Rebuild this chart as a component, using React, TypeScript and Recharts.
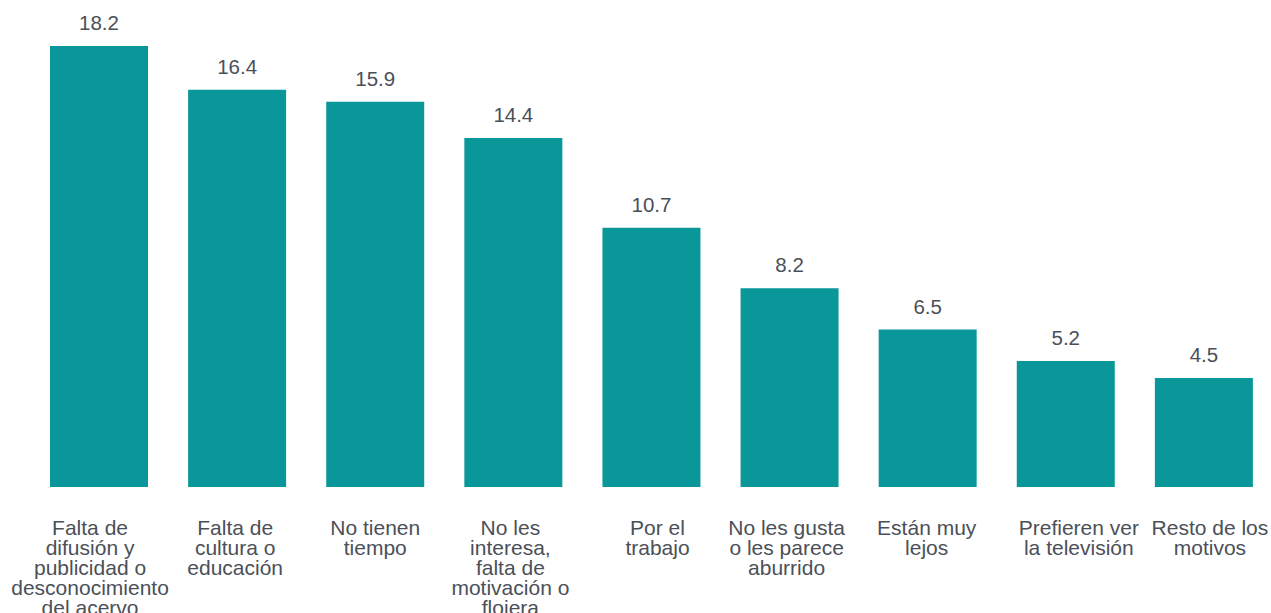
import { BarChart, Bar, XAxis, YAxis, LabelList } from "recharts";

// motivos (saltos de línea como en el original)
const motivos = [
  "Falta de\ndifusión y\npublicidad o\ndesconocimiento\ndel acervo",
  "Falta de\ncultura o\neducación",
  "No tienen\ntiempo",
  "No les\ninteresa,\nfalta de\nmotivación o\nflojera",
  "Por el\ntrabajo",
  "No les gusta\no les parece\naburrido",
  "Están muy\nlejos",
  "Prefieren ver\nla televisión",
  "Resto de los\nmotivos",
];

const porcentajes = [18.2, 16.4, 15.9, 14.4, 10.7, 8.2, 6.5, 5.2, 4.5];

const data = motivos.map((motivo, i) => ({
  motivo,
  valor: porcentajes[i],
}));

const TEAL = "#099799";
const INK = "#4b5058";

// the source tool nudged a few wrapped labels sideways; copy that
const tickNudge = [-9, -2, 0, -3, 6, -3, -1, 13, 6];

function CategoryTick({ x, y, payload, index }: any) {
  const lines = String(payload.value).split("\n");
  const cx = x + (tickNudge[index] ?? 0);
  return (
    <text
      x={cx}
      y={y}
      textAnchor="middle"
      fill={INK}
      fontSize={21}
      fontFamily="'Liberation Sans', Arial, sans-serif"
    >
      {lines.map((line, i) => (
        <tspan key={i} x={cx} dy={i === 0 ? 48 : 20}>
          {line}
        </tspan>
      ))}
    </text>
  );
}

export default function App() {
  return (
    <div
      style={{
        position: "absolute",
        left: 0,
        top: 0,
        background: "#fff",
        fontFamily: "'Liberation Sans', Arial, sans-serif",
      }}
    >
      <BarChart
        width={1271}
        height={613}
        data={data}
        margin={{ top: 2.4, right: -2, left: 30, bottom: 0 }}
      >
        <XAxis
          dataKey="motivo"
          axisLine={false}
          tickLine={false}
          tickSize={0}
          tickMargin={0}
          interval={0}
          height={126}
          tick={<CategoryTick />}
        />
        <YAxis hide domain={[0, 20]} />
        <Bar dataKey="valor" fill={TEAL} barSize={98} isAnimationActive={false}>
          <LabelList
            dataKey="valor"
            position="top"
            offset={16}
            fill={INK}
            fontSize={20.5}
            formatter={(v: any) => Number(v).toFixed(1)}
          />
        </Bar>
      </BarChart>
    </div>
  );
}
